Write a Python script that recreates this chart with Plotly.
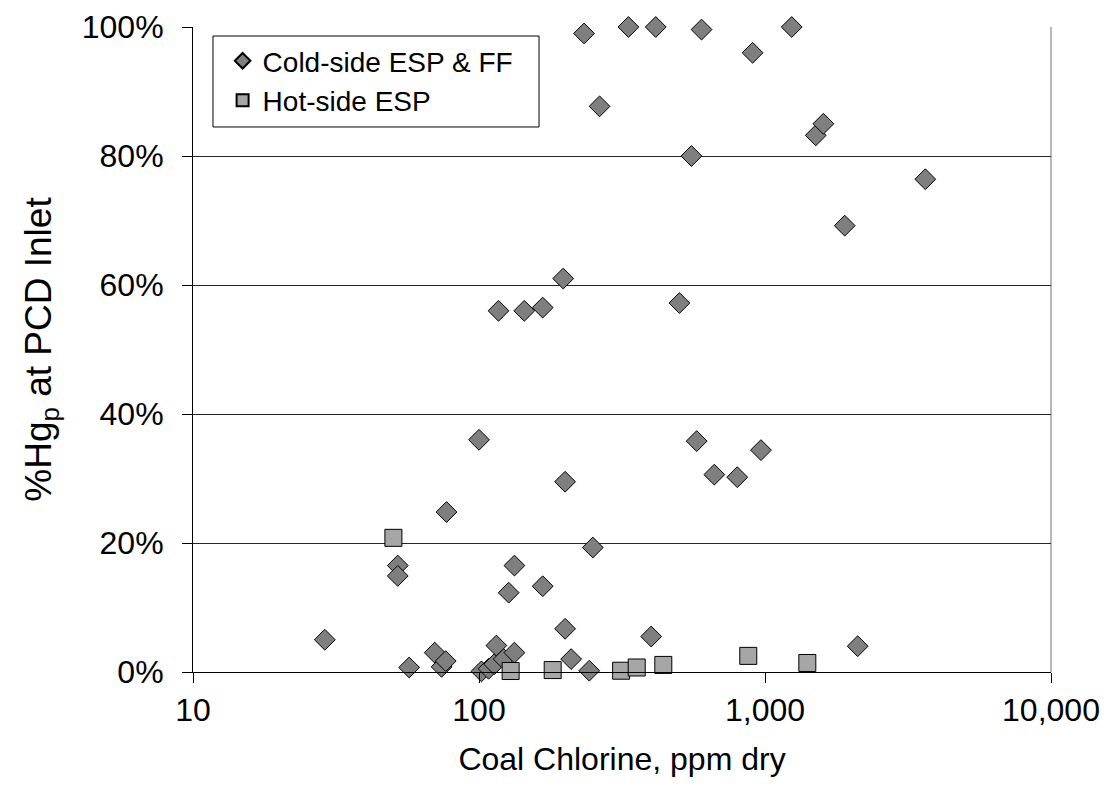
import plotly.graph_objects as go

# Cold-side ESP & FF
cold_cl = [28.9, 52, 52, 57, 70, 74, 76.5, 77, 100, 102, 108, 113, 115, 122, 117, 127, 133, 133,
           144, 167, 167, 197, 200, 200, 210, 233, 243, 250, 264, 333, 400, 415, 502, 553, 577,
           600, 665, 800, 905, 968, 1240, 1505, 1600, 1900, 2109, 3635]
cold_hg = [0.050, 0.165, 0.149, 0.007, 0.030, 0.008, 0.017, 0.248, 0.360, 0.001, 0.005, 0.012,
           0.041, 0.020, 0.560, 0.123, 0.165, 0.030, 0.560, 0.565, 0.133, 0.610, 0.295, 0.067,
           0.020, 0.990, 0.002, 0.193, 0.877, 1.000, 0.055, 1.000, 0.572, 0.800, 0.358, 0.996,
           0.306, 0.302, 0.960, 0.344, 1.000, 0.832, 0.850, 0.692, 0.040, 0.764]

# Hot-side ESP
hot_cl = [50.2, 129, 181, 314, 356, 441, 874, 1406]
hot_hg = [0.208, 0.0015, 0.003, 0.002, 0.007, 0.011, 0.025, 0.014]

x_ticks = [10, 100, 1000, 10000]
x_ticktext = ["10", "100", "1,000", "10,000"]
y_ticks = [0, 0.2, 0.4, 0.6, 0.8, 1.0]

FONT = "Liberation Sans, Arial, sans-serif"

fig = go.Figure()
fig.add_trace(go.Scatter(
    x=cold_cl, y=cold_hg, mode="markers", name="Cold-side ESP & FF",
    marker=dict(symbol="diamond", size=16, color="#7f7f7f", line=dict(color="black", width=1)),
    cliponaxis=False,
))
fig.add_trace(go.Scatter(
    x=hot_cl, y=hot_hg, mode="markers", name="Hot-side ESP",
    marker=dict(symbol="square", size=17, color="#a6a6a6", line=dict(color="black", width=1)),
    cliponaxis=False,
))

fig.update_layout(
    width=1109, height=789,
    margin=dict(l=185, r=66, t=19, b=125),
    paper_bgcolor="white", plot_bgcolor="white",
    font=dict(family=FONT, size=32, color="black"),
    showlegend=True,
    legend=dict(
        x=0.0345, y=0.986, xanchor="left", yanchor="top",
        bgcolor="rgba(0,0,0,0)", borderwidth=0,
        font=dict(size=28, family=FONT),
        itemsizing="constant",
    ),
    xaxis=dict(
        type="log", range=[1, 4], automargin=False,
        tickvals=x_ticks, ticktext=x_ticktext,
        ticks="outside", ticklen=10, tickwidth=1, tickcolor="black",
        showline=True, linecolor="black", linewidth=1,
        showgrid=False, zeroline=False,
        tickfont=dict(size=32),
        ticklabelstandoff=0,
        title=dict(text="Coal Chlorine, ppm dry", font=dict(size=32), standoff=20),
    ),
    yaxis=dict(
        range=[0, 1], tickvals=y_ticks, tickformat=".0%", automargin=False,
        ticks="outside", ticklen=10, tickwidth=1, tickcolor="black",
        showline=True, linecolor="black", linewidth=1,
        showgrid=True, gridcolor="#262626", gridwidth=1,
        zeroline=False,
        tickfont=dict(size=32),
        ticklabelstandoff=12,
        title=dict(text="%Hg<sub>p</sub> at PCD Inlet", font=dict(size=37), standoff=18),
    ),
    shapes=[
        dict(type="line", xref="paper", yref="paper", x0=1, x1=1, y0=0, y1=1,
             line=dict(color="#a0a0a0", width=1.5), layer="below"),
        dict(type="rect", xref="paper", yref="paper", x0=0.0233, x1=0.4033, y0=0.845, y1=0.986,
             line=dict(color="black", width=1), fillcolor="white", layer="above"),
    ],
)

fig.write_html("out.html")
